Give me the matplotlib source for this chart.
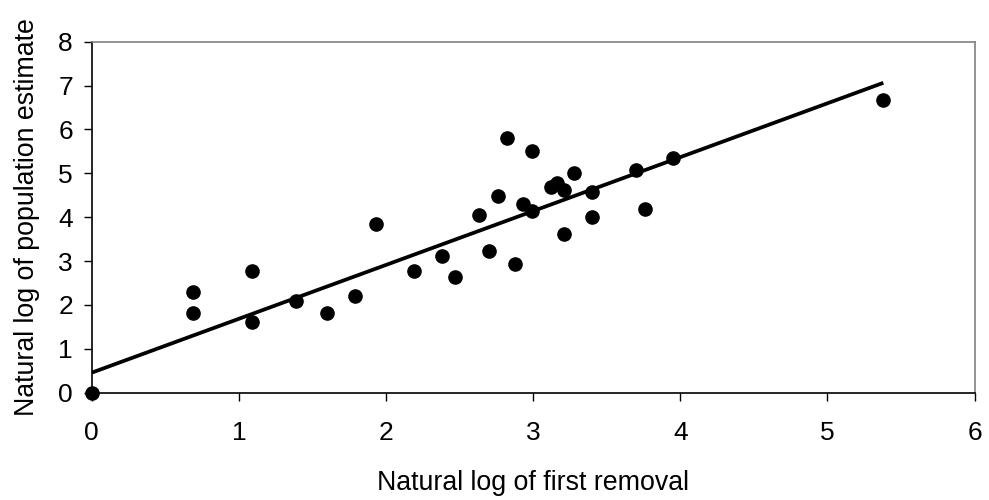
import matplotlib
matplotlib.use("Agg")
import matplotlib.pyplot as plt
import numpy as np

# ln(first removal) vs ln(population estimate)
first_removal = [0.00, 0.69, 0.69, 1.09, 1.09, 1.386, 1.60, 1.79, 1.93, 2.19,
                 2.38, 2.47, 2.63, 2.70, 2.76, 2.82, 2.88, 2.93, 2.99, 2.99,
                 3.12, 3.16, 3.21, 3.21, 3.28, 3.40, 3.40, 3.70, 3.76, 3.95,
                 5.38]
pop_estimate = [0.00, 2.30, 1.81, 2.78, 1.62, 2.10, 1.81, 2.20, 3.85, 2.78,
                3.12, 2.64, 4.05, 3.22, 4.48, 5.80, 2.93, 4.30, 5.50, 4.14,
                4.68, 4.77, 4.62, 3.61, 5.01, 4.58, 4.00, 5.08, 4.19, 5.36,
                6.67]

# trend line as drawn in the original
trend_slope = 1.228
trend_icpt = 0.456

x = np.array(first_removal)
y = np.array(pop_estimate)

plt.rcParams['font.family'] = ['Liberation Sans', 'DejaVu Sans']

fig = plt.figure(figsize=(9.89, 5.0), dpi=100)
ax = fig.add_axes([0.0927, 0.2146, 0.8927, 0.702])

xs = np.array([x.min(), x.max()])
ax.plot(xs, trend_icpt + trend_slope * xs, color='black', lw=2.7,
        solid_capstyle='butt', zorder=2)
ax.plot(x, y, 'o', color='black', ms=9.5, zorder=3, clip_on=False)

ax.set_xlim(0, 6)
ax.set_ylim(0, 8)
ax.set_xticks(range(0, 7))
ax.set_yticks(range(0, 9))

for s in ['top', 'right']:
    ax.spines[s].set_color('#808080')
for s in ['left', 'bottom']:
    ax.spines[s].set_color('black')
for s in ax.spines.values():
    s.set_linewidth(1.2)

ax.tick_params(axis='both', direction='out', length=5.5, width=1.0, labelsize=19)
ax.tick_params(axis='x', pad=15)
ax.tick_params(axis='y', pad=8)

ax.set_xlabel("Natural log of first removal", fontsize=19.3, labelpad=18)
ax.set_ylabel("Natural log of population estimate", fontsize=19.3, labelpad=13)

fig.savefig("out.png", dpi=100)
